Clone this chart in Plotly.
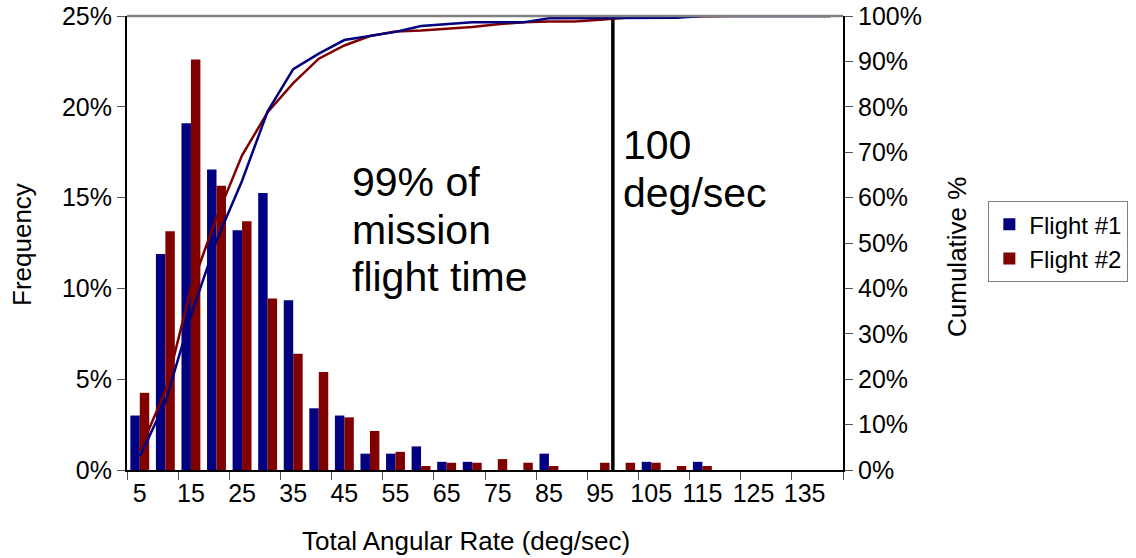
import plotly.graph_objects as go

rates = [5, 10, 15, 20, 25, 30, 35, 40, 45, 50, 55, 60, 65, 70, 75, 80, 85, 90, 95, 100,
         105, 110, 115, 120, 125, 130, 135, 140]
flight1 = [3.0, 11.9, 19.1, 16.55, 13.2, 15.25, 9.35, 3.4, 3.0, 0.9, 0.9, 1.3, 0.45, 0.45,
           0, 0, 0.9, 0, 0, 0, 0.45, 0, 0.45, 0, 0, 0, 0, 0]
flight2 = [4.25, 13.15, 22.6, 15.65, 13.7, 9.45, 6.4, 5.4, 2.9, 2.15, 1.0, 0.22, 0.4, 0.4,
           0.6, 0.4, 0.22, 0, 0.4, 0.4, 0.4, 0.22, 0.22, 0, 0, 0, 0, 0]
cum1 = [3.0, 14.9, 34.0, 50.5, 63.7, 79.0, 88.3, 91.7, 94.7, 95.6, 96.5, 97.8, 98.2, 98.6,
        98.6, 98.6, 99.5, 99.5, 99.5, 99.5, 99.6, 99.6, 100, 100, 100, 100, 100, 100]
cum2 = [4.3, 17.4, 40.0, 55.6, 69.3, 78.8, 85.2, 90.6, 93.5, 95.6, 96.6, 96.8, 97.2, 97.6,
        98.2, 98.6, 98.8, 98.8, 99.2, 99.6, 99.8, 99.9, 100, 100, 100, 100, 100, 100]
tick_labels = [5, 15, 25, 35, 45, 55, 65, 75, 85, 95, 105, 115, 125, 135]
boundary_ticks = [2.5 + 10 * i for i in range(15)]
cutoff = 97.5

NAVY = "#000080"
MAROON = "#800000"
FONT = "Liberation Sans, Arial, sans-serif"

fig = go.Figure()
fig.add_trace(go.Bar(x=rates, y=flight1, name="Flight #1", marker_color=NAVY,
                     marker_line_width=0))
fig.add_trace(go.Bar(x=rates, y=flight2, name="Flight #2", marker_color=MAROON,
                     marker_line_width=0))
fig.add_trace(go.Scatter(x=rates, y=cum2, yaxis="y2", mode="lines",
                         line=dict(color=MAROON, width=2.5), showlegend=False))
fig.add_trace(go.Scatter(x=rates, y=cum1, yaxis="y2", mode="lines",
                         line=dict(color=NAVY, width=2.5), showlegend=False))

fig.update_layout(
    width=1136, height=558,
    margin=dict(l=127, r=293, t=16, b=88, autoexpand=False),
    paper_bgcolor="white", plot_bgcolor="white",
    font=dict(family=FONT, size=25, color="black"),
    barmode="group", bargap=0.26, bargroupgap=0,
    showlegend=True,
    legend=dict(x=1.203, y=0.592, xanchor="left", yanchor="top",
                bordercolor="#808080", borderwidth=1, bgcolor="white",
                font=dict(size=24), tracegroupgap=0, itemwidth=30),
    xaxis=dict(range=[2.5, 142.5], tickvals=tick_labels,
               ticktext=[str(t) for t in tick_labels], ticks="",
               showline=True, linecolor="black", linewidth=2, showgrid=False,
               zeroline=False, tickfont=dict(size=25),
               minor=dict(tickvals=boundary_ticks, ticks="outside", ticklen=8,
                          tickcolor="#555555", tickwidth=1, showgrid=False)),
    yaxis=dict(range=[0, 25], dtick=5, ticksuffix="%", ticks="outside", ticklen=8,
               tickcolor="#555555", showline=True, linecolor="black", linewidth=2,
               showgrid=False, zeroline=False, tickfont=dict(size=25)),
    yaxis2=dict(range=[0, 100], dtick=10, ticksuffix="%", ticks="outside", ticklen=8,
                tickcolor="#555555", overlaying="y", side="right", showline=True,
                linecolor="black", linewidth=2, showgrid=False, zeroline=False,
                tickfont=dict(size=25)),
)

# top border of plot area
fig.add_shape(type="line", xref="paper", yref="paper", x0=0, x1=1, y0=1, y1=1,
              line=dict(color="#808080", width=2.5))
# 100 deg/sec cutoff line
fig.add_shape(type="line", xref="x", yref="y2", x0=cutoff, x1=cutoff, y0=0, y1=99.2,
              line=dict(color="black", width=3.5))

def ann(text, x, y, size, xanchor="left", xref="x", textangle=0):
    fig.add_annotation(text=text, x=x, y=y, xref=xref, yref="paper",
                       xanchor=xanchor, yanchor="middle", showarrow=False,
                       textangle=textangle, font=dict(size=size, family=FONT, color="black"))

def py(p):
    return (470 - p) / 454.0

def pxd(p):
    return 2.5 + (p - 127) / 716.0 * 140

ann("99% of", pxd(350), py(182), 41)
ann("mission", pxd(350), py(230), 41)
ann("flight time", pxd(350), py(277), 41)
ann("100", pxd(621), py(145), 41)
ann("deg/sec", pxd(621), py(193), 41)

# axis titles
ann("Total Angular Rate (deg/sec)", (466 - 127) / 716.0, py(541), 26,
    xanchor="center", xref="paper")
ann("Frequency", (22 - 127) / 716.0, py(245), 26, xanchor="center", xref="paper",
    textangle=-90)
ann("Cumulative %", (957 - 127) / 716.0, py(257), 26, xanchor="center", xref="paper",
    textangle=-90)

fig.write_html("out.html")
